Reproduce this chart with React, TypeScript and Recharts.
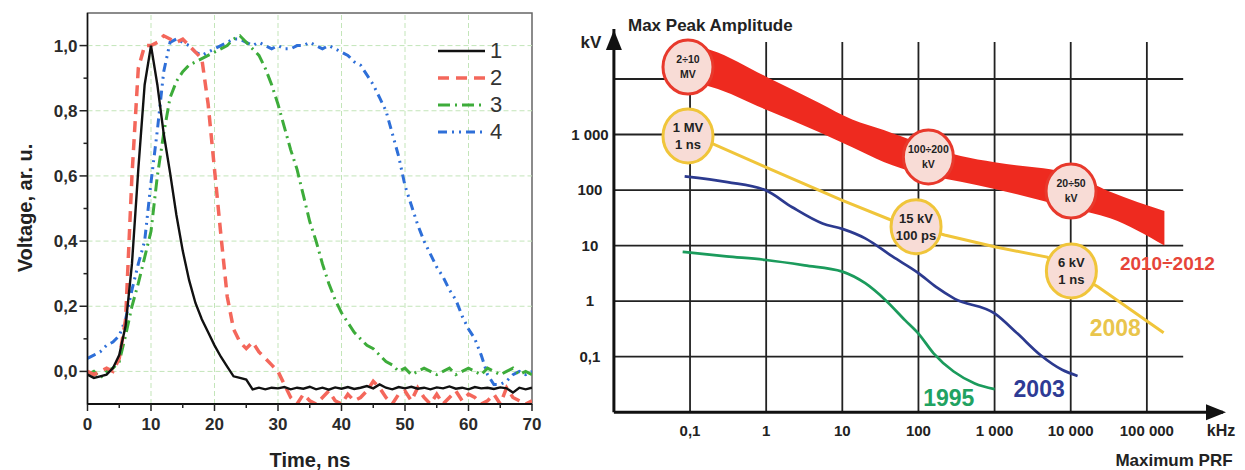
import React from 'react';
import {
  ComposedChart,
  LineChart,
  Line,
  Area,
  XAxis,
  YAxis,
  ReferenceLine,
  ReferenceDot,
  ReferenceArea,
  Legend,
} from 'recharts';

const FONT = '"Liberation Sans", Arial, Helvetica, sans-serif';

// ---------- left panel: pulse shapes ----------
const timeNs = [
  0, 1, 2, 3, 4, 5, 6, 7, 8, 9, 10,
  11, 12, 13, 14, 15, 16, 17, 18, 19, 20,
  21, 22, 23, 24, 25, 26, 27, 28, 29, 30,
  31, 32, 33, 34, 35, 36, 37, 38, 39, 40,
  41, 42, 43, 44, 45, 46, 47, 48, 49, 50,
  51, 52, 53, 54, 55, 56, 57, 58, 59, 60,
  61, 62, 63, 64, 65, 66, 67, 68, 69, 70,
];

const pulse1 = [
  -0.01, -0.02, -0.015, -0.01, 0.01, 0.05, 0.14, 0.33, 0.62, 0.88, 1.0,
  0.88, 0.73, 0.61, 0.48, 0.37, 0.28, 0.21, 0.16, 0.12, 0.08,
  0.045, 0.015, -0.015, -0.02, -0.025, -0.055, -0.05, -0.055, -0.05, -0.052,
  -0.048, -0.055, -0.05, -0.053, -0.047, -0.055, -0.05, -0.056, -0.049, -0.053,
  -0.048, -0.054, -0.05, -0.045, -0.052, -0.04, -0.05, -0.055, -0.048, -0.052,
  -0.047, -0.053, -0.05, -0.055, -0.049, -0.052, -0.046, -0.053, -0.05, -0.055,
  -0.048, -0.052, -0.05, -0.054, -0.049, -0.052, -0.065, -0.05, -0.055, -0.05,
];

const pulse2 = [
  0.0, -0.01, 0.0, 0.01, 0.0, 0.04, 0.16, 0.6, 0.93, 1.0, 1.0,
  1.01, 1.03, 1.02, 1.01, 1.02, 1.0, 0.98, 0.96, 0.82, 0.62,
  0.42, 0.23, 0.13, 0.09, 0.07, 0.09, 0.06, 0.04, 0.02, 0.0,
  -0.04, -0.08, -0.1, -0.07, -0.09, -0.1, -0.08, -0.06, -0.09, -0.1,
  -0.07, -0.09, -0.08, -0.06, -0.03, -0.05, -0.08, -0.1, -0.07, -0.06,
  -0.09, -0.05, -0.08, -0.1, -0.07, -0.1, -0.08, -0.06, -0.09, -0.07,
  -0.08, -0.1, -0.09, -0.07, -0.1, -0.05, -0.08, -0.09, -0.1, -0.09,
];

const pulse3 = [
  -0.01, 0.0, -0.02, 0.0, 0.01, 0.03, 0.11, 0.2, 0.27, 0.35, 0.43,
  0.6, 0.73, 0.84, 0.89, 0.92, 0.94, 0.95, 0.96, 0.97, 0.98,
  0.99, 1.0, 1.02, 1.03, 1.01, 0.99, 0.97, 0.93, 0.88, 0.82,
  0.75, 0.68, 0.62, 0.54, 0.46, 0.4, 0.33, 0.27, 0.22, 0.18,
  0.15, 0.12, 0.1, 0.08, 0.07, 0.05, 0.03, 0.02, 0.0, 0.01,
  -0.01, 0.0, 0.01, 0.0, -0.01, 0.0, 0.01, -0.01, 0.0, 0.01,
  0.0, -0.01, 0.01, 0.0, -0.01, 0.0, 0.01, -0.01, 0.0, -0.01,
];

const pulse4 = [
  0.04, 0.05, 0.06, 0.08, 0.09, 0.11, 0.16, 0.25, 0.33, 0.4, 0.58,
  0.74, 0.92, 1.01, 1.02, 1.01, 1.0, 0.98, 0.97, 0.98, 0.99,
  1.0, 1.01, 1.02, 1.02, 1.01, 1.0, 1.01, 1.0, 0.99, 1.0,
  0.99, 0.99, 1.0, 1.0, 1.01, 1.0, 0.99, 1.0, 0.99, 0.98,
  0.97, 0.95, 0.94, 0.91, 0.88, 0.84, 0.8, 0.73, 0.66, 0.57,
  0.51, 0.45, 0.4, 0.36, 0.32, 0.29, 0.25, 0.22, 0.17, 0.13,
  0.1, 0.05, -0.01, -0.04, -0.04, -0.03, -0.01, 0.0, -0.01, 0.0,
];

const timeTicks = [0, 5, 10, 15, 20, 25, 30, 35, 40, 45, 50, 55, 60, 65, 70];
const voltTicks = [0, 0.1, 0.2, 0.3, 0.4, 0.5, 0.6, 0.7, 0.8, 0.9, 1.0];
const timeGrid = [10, 20, 30, 40, 50, 60];
const voltGrid = [0, 0.2, 0.4, 0.6, 0.8, 1.0];

const pulseRows = timeNs.map((t, i) => ({
  t,
  p1: pulse1[i],
  p2: pulse2[i],
  p3: pulse3[i],
  p4: pulse4[i],
}));

const pulseSeries = [
  { key: 'p1', name: '1', color: '#111111', width: 2.4, dash: undefined },
  { key: 'p2', name: '2', color: '#f4675b', width: 3.5, dash: '11 7' },
  { key: 'p3', name: '3', color: '#3dac3a', width: 3, dash: '12 5 2 5' },
  { key: 'p4', name: '4', color: '#2e6fd8', width: 3, dash: '9 5 2 5 2 5' },
];

// ---------- right panel: max peak amplitude vs PRF ----------
const prfTicks = [0.1, 1, 10, 100, 1000, 10000, 100000];
const prfTickLabels = ['0,1', '1', '10', '100', '1 000', '10 000', '100 000'];
const kvTicks = [0.1, 1, 10, 100, 1000];
const kvTickLabels = ['0,1', '1', '10', '100', '1 000'];
const kvGrid = [0.1, 1, 10, 100, 1000, 10000];

const prf1995 = [0.08, 0.3, 1, 3.2, 10, 20, 37, 67, 100, 158, 290, 550, 1000];
const kv1995 = [7.7, 6.4, 5.5, 4.4, 3.4, 2.1, 1.04, 0.45, 0.26, 0.115, 0.054, 0.033, 0.026];

const prf2003 = [0.085, 0.31, 1, 2.2, 5.5, 10, 20, 46, 100, 170, 300, 1000, 2000, 4000, 7700, 12300];
const kv2003 = [176, 139, 98, 49, 25, 20, 13.5, 6.3, 3.2, 1.8, 1.1, 0.6, 0.26, 0.107, 0.058, 0.045];

const prf2008 = [0.094, 0.2, 1, 10, 46, 93, 220, 1000, 4900, 10200, 23000, 166000];
const kv2008 = [940, 680, 257, 65, 28, 21.9, 15.5, 9.5, 6.2, 3.5, 1.8, 0.27];

const bandPrf = [0.094, 0.19, 1, 5, 13.5, 35, 100, 360, 1000, 10000, 33000, 170000];
const bandLow = [8900, 7200, 2800, 1100, 590, 320, 200, 141, 105, 47, 31, 10];
const bandHigh = [42000, 33000, 11000, 3700, 1860, 1200, 710, 410, 316, 195, 93, 42];

const badgeText = [
  ['2÷10', 'MV'],
  ['1 MV', '1 ns'],
  ['100÷200', 'kV'],
  ['20÷50', 'kV'],
  ['15 kV', '100 ps'],
  ['6 kV', '1 ns'],
];
const badgePrf = [0.094, 0.094, 135, 10100, 93, 10200];
const badgeKv = [16400, 940, 394, 96, 21.9, 3.5];
const badgeGroup = ['band', 'y2008', 'band', 'band', 'y2008', 'y2008'];

const yearText = ['2010÷2012', '2008', '2003', '1995'];
const yearPrf = [186000, 38500, 3850, 250];
const yearKv = [4.85, 0.33, 0.026, 0.018];
const yearGroup = ['band', 'y2008', 'y2003', 'y1995'];

const toRows = (fs: number[], vs: number[]) => fs.map((f, i) => ({ f, v: vs[i] }));
const rows1995 = toRows(prf1995, kv1995);
const rows2003 = toRows(prf2003, kv2003);
const rows2008 = toRows(prf2008, kv2008);
const bandRows = bandPrf.map((f, i) => ({ f, range: [bandLow[i], bandHigh[i]] }));

const groupStyle: Record<string, { stroke: string; text: string; size: number }> = {
  band: { stroke: '#e8392c', text: '#e6453a', size: 19 },
  y2008: { stroke: '#f0c53a', text: '#e9c54c', size: 23 },
  y2003: { stroke: '#2c3a8f', text: '#2e3b95', size: 23 },
  y1995: { stroke: '#1b9b5c', text: '#21a261', size: 23 },
};

const GRID_TOP_KV = 46500;
const GRID_RIGHT_PRF = 300000;

// ---------- tick renderers ----------
const TimeTick = ({ x, y, payload }: any) => {
  const v = payload.value;
  const major = v % 10 === 0;
  return (
    <g>
      <line x1={x} x2={x} y1={y} y2={y + (major ? 7 : 4)} stroke="#222" strokeWidth={1.5} />
      {major && (
        <text x={x} y={y + 26} textAnchor="middle" fontSize={17} fontWeight="bold" fill="#2a2a2a" fontFamily={FONT}>
          {v}
        </text>
      )}
    </g>
  );
};

const VoltTick = ({ x, y, payload }: any) => {
  const v = payload.value;
  const major = Math.round(v * 10) % 2 === 0;
  return (
    <g>
      <line x1={x} x2={x - (major ? 8 : 4)} y1={y} y2={y} stroke="#222" strokeWidth={1.5} />
      {major && (
        <text x={x - 10} y={y + 6} textAnchor="end" fontSize={17} fontWeight="bold" fill="#2a2a2a" fontFamily={FONT}>
          {v.toFixed(1).replace('.', ',')}
        </text>
      )}
    </g>
  );
};

const PrfTick = ({ x, y, payload }: any) => (
  <text x={x} y={y + 24} textAnchor="middle" fontSize={15} fontWeight="bold" fill="#222" fontFamily={FONT}>
    {prfTickLabels[prfTicks.indexOf(payload.value)]}
  </text>
);

const KvTick = ({ x, y, payload }: any) => (
  <text x={x - 24} y={y + 5} textAnchor="middle" fontSize={15} fontWeight="bold" fill="#222" fontFamily={FONT}>
    {kvTickLabels[kvTicks.indexOf(payload.value)]}
  </text>
);

const PulseLegend = () => (
  <div style={{ fontFamily: FONT }}>
    {pulseSeries.map((s) => (
      <div key={s.key} style={{ display: 'flex', alignItems: 'center', height: 27 }}>
        <svg width={50} height={10}>
          <line x1={2} x2={49} y1={5} y2={5} stroke={s.color} strokeWidth={s.width} strokeDasharray={s.dash} />
        </svg>
        <span style={{ fontSize: 22, color: '#333', marginLeft: 4, lineHeight: '22px' }}>{s.name}</span>
      </div>
    ))}
  </div>
);

const Badge = ({ cx, cy, lines, group }: any) => {
  const red = group === 'band';
  const fs = red ? 10.5 : 13;
  const gap = red ? 15 : 17;
  return (
    <g>
      <ellipse cx={cx} cy={cy} rx={25} ry={27} fill="#f8dcd6" stroke={groupStyle[group].stroke} strokeWidth={3} />
      <text textAnchor="middle" fontSize={fs} fontWeight="bold" fill="#222" fontFamily={FONT}>
        <tspan x={cx} y={cy - gap / 2 + fs * 0.35}>{lines[0]}</tspan>
        <tspan x={cx} y={cy + gap / 2 + fs * 0.35}>{lines[1]}</tspan>
      </text>
    </g>
  );
};

const YearLabel = ({ cx, cy, text, group }: any) => (
  <text
    x={cx}
    y={cy + groupStyle[group].size * 0.36}
    textAnchor="middle"
    fontSize={groupStyle[group].size}
    fontWeight="bold"
    fill={groupStyle[group].text}
    fontFamily={FONT}
  >
    {text}
  </text>
);

const ArrowUp = ({ cx, cy }: any) => (
  <polygon points={`${cx},${cy + 1} ${cx - 8},${cy + 21} ${cx + 8},${cy + 21}`} fill="#111" />
);
const ArrowRight = ({ cx, cy }: any) => (
  <polygon points={`${cx + 3},${cy} ${cx - 17},${cy - 8} ${cx - 17},${cy + 8}`} fill="#111" />
);

const html = (extra: React.CSSProperties): React.CSSProperties => ({
  position: 'absolute',
  fontFamily: FONT,
  fontWeight: 'bold',
  color: '#222',
  whiteSpace: 'nowrap',
  ...extra,
});

export default function App() {
  return (
    <div style={{ position: 'absolute', left: 0, top: 0, width: 1245, height: 470, background: '#fff', overflow: 'hidden' }}>
      <div style={{ position: 'absolute', left: 0, top: 0 }}>
        <LineChart width={560} height={470} data={pulseRows} margin={{ top: 13, right: 28, bottom: 0, left: 0 }}>
          <ReferenceArea x1={0} x2={70} y1={-0.1} y2={1.1} fill="none" stroke="#666" strokeWidth={1.5} zIndex={50} />
          {timeGrid.map((t) => (
            <ReferenceLine key={'tx' + t} x={t} stroke="#c3e5b9" strokeDasharray="5 3" zIndex={50} />
          ))}
          {voltGrid.map((v) => (
            <ReferenceLine key={'vy' + v} y={v} stroke="#c3e5b9" strokeDasharray="5 3" zIndex={50} />
          ))}
          <XAxis
            dataKey="t"
            type="number"
            domain={[0, 70]}
            ticks={timeTicks}
            interval={0}
            allowDataOverflow
            height={66}
            tickSize={0}
            tickMargin={0}
            tickLine={false}
            axisLine={{ stroke: '#111', strokeWidth: 2 }}
            tick={<TimeTick />}
          />
          <YAxis
            type="number"
            domain={[-0.1, 1.1]}
            ticks={voltTicks}
            interval={0}
            allowDataOverflow
            width={87.5}
            tickSize={0}
            tickMargin={0}
            tickLine={false}
            axisLine={{ stroke: '#111', strokeWidth: 1.5 }}
            tick={<VoltTick />}
          />
          {[...pulseSeries].reverse().map((s) => (
            <Line
              key={s.key}
              dataKey={s.key}
              type="linear"
              stroke={s.color}
              strokeWidth={s.width}
              strokeDasharray={s.dash}
              dot={false}
              isAnimationActive={false}
            />
          ))}
          <Legend
            layout="vertical"
            align="center"
            verticalAlign="middle"
            wrapperStyle={{ left: 436, top: 37, width: 90, height: 110 }}
            content={() => <PulseLegend />}
          />
        </LineChart>
      </div>

      <div style={{ position: 'absolute', left: 560, top: 0 }}>
        <ComposedChart width={685} height={470} margin={{ top: 29, right: 22, bottom: 0, left: 0 }}>
          {prfTicks.map((f) => (
            <ReferenceLine
              key={'gx' + f}
              segment={[{ x: f, y: 0.01 }, { x: f, y: GRID_TOP_KV }]}
              stroke="#222"
              strokeWidth={1.8}
              zIndex={50}
            />
          ))}
          {kvGrid.map((v) => (
            <ReferenceLine
              key={'gy' + v}
              segment={[{ x: 0.01, y: v }, { x: GRID_RIGHT_PRF, y: v }]}
              stroke="#222"
              strokeWidth={1.8}
              zIndex={50}
            />
          ))}
          <XAxis
            dataKey="f"
            type="number"
            scale="log"
            domain={[0.01, 1e6]}
            allowDataOverflow
            ticks={prfTicks}
            interval={0}
            height={57.8}
            tickSize={0}
            tickMargin={0}
            tickLine={false}
            axisLine={{ stroke: '#111', strokeWidth: 3 }}
            tick={<PrfTick />}
          />
          <YAxis
            type="number"
            scale="log"
            domain={[0.01, 79433]}
            allowDataOverflow
            ticks={kvTicks}
            interval={0}
            width={53.9}
            tickSize={0}
            tickMargin={0}
            tickLine={false}
            axisLine={{ stroke: '#111', strokeWidth: 3 }}
            tick={<KvTick />}
          />
          <Area
            data={bandRows}
            dataKey="range"
            type="monotone"
            fill="#ee2a1f"
            fillOpacity={1}
            stroke="none"
            isAnimationActive={false}
          />
          <Line data={rows1995} dataKey="v" type="monotone" stroke="#1b9b5c" strokeWidth={2.7} dot={false} isAnimationActive={false} />
          <Line data={rows2003} dataKey="v" type="monotone" stroke="#2c3a8f" strokeWidth={2.7} dot={false} isAnimationActive={false} />
          <Line data={rows2008} dataKey="v" type="linear" stroke="#f0c53a" strokeWidth={3} dot={false} isAnimationActive={false} />
          {badgeText.map((lines, i) => (
            <ReferenceDot
              key={'b' + i}
              x={badgePrf[i]}
              y={badgeKv[i]}
              ifOverflow="visible"
              shape={(p: any) => <Badge cx={p.cx} cy={p.cy} lines={lines} group={badgeGroup[i]} />}
            />
          ))}
          {yearText.map((t, i) => (
            <ReferenceDot
              key={'yr' + i}
              x={yearPrf[i]}
              y={yearKv[i]}
              ifOverflow="visible"
              shape={(p: any) => <YearLabel cx={p.cx} cy={p.cy} text={t} group={yearGroup[i]} />}
            />
          ))}
          <ReferenceDot x={0.01} y={79433} ifOverflow="visible" shape={(p: any) => <ArrowUp cx={p.cx} cy={p.cy} />} />
          <ReferenceDot x={1e6} y={0.01} ifOverflow="visible" shape={(p: any) => <ArrowRight cx={p.cx} cy={p.cy} />} />
        </ComposedChart>
      </div>

      <div style={html({ left: 25, top: 208, fontSize: 20, transform: 'translate(-50%, -50%) rotate(-90deg)', lineHeight: '20px' })}>
        Voltage, ar. u.
      </div>
      <div style={html({ left: 310, top: 460, fontSize: 20, transform: 'translate(-50%, -50%)', lineHeight: '20px' })}>
        Time, ns
      </div>
      <div style={html({ left: 591, top: 42, fontSize: 17, transform: 'translate(-50%, -50%)', lineHeight: '17px' })}>kV</div>
      <div style={html({ left: 628, top: 25, fontSize: 17, transform: 'translateY(-50%)', lineHeight: '17px' })}>
        Max Peak Amplitude
      </div>
      <div style={html({ left: 1221, top: 431, fontSize: 16, transform: 'translate(-50%, -50%)', lineHeight: '16px' })}>kHz</div>
      <div style={html({ left: 1174, top: 460, fontSize: 17, transform: 'translate(-50%, -50%)', lineHeight: '17px' })}>
        Maximum PRF
      </div>
    </div>
  );
}
